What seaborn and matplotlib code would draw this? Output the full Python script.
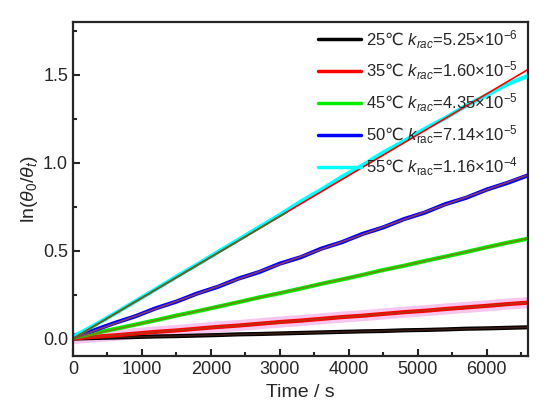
"""ln(theta0/theta) vs time at five temperatures, with linear fits."""
import matplotlib
matplotlib.use("Agg")
import matplotlib.pyplot as plt
from matplotlib.ticker import MultipleLocator
import seaborn as sns

# sample times (s)
time_s = [0, 300, 600, 900, 1200, 1500, 1800, 2100, 2400, 2700, 3000, 3300,
          3600, 3900, 4200, 4500, 4800, 5100, 5400, 5700, 6000, 6300, 6600]

y_25 = [0.000, 0.003, 0.006, 0.009, 0.012, 0.014, 0.017, 0.020, 0.024, 0.026, 0.029, 0.032,
        0.035, 0.038, 0.041, 0.043, 0.047, 0.049, 0.052, 0.056, 0.058, 0.061, 0.064]
y_35 = [0.000, 0.010, 0.018, 0.028, 0.038, 0.046, 0.056, 0.066, 0.074, 0.084, 0.094, 0.102,
        0.112, 0.122, 0.130, 0.140, 0.150, 0.158, 0.168, 0.177, 0.186, 0.196, 0.204]
y_45 = [0.005, 0.030, 0.054, 0.079, 0.104, 0.131, 0.155, 0.181, 0.207, 0.234, 0.258, 0.284,
        0.311, 0.336, 0.362, 0.390, 0.414, 0.441, 0.466, 0.492, 0.519, 0.545, 0.568]
y_50 = [0.015, 0.046, 0.088, 0.126, 0.172, 0.210, 0.256, 0.294, 0.341, 0.378, 0.426, 0.462,
        0.511, 0.548, 0.595, 0.632, 0.679, 0.716, 0.764, 0.800, 0.847, 0.885, 0.928]
y_55 = [0.010, 0.073, 0.141, 0.211, 0.281, 0.352, 0.421, 0.492, 0.562, 0.633, 0.703, 0.778,
        0.846, 0.919, 0.985, 1.058, 1.122, 1.192, 1.254, 1.324, 1.384, 1.446, 1.494]

# linear fits: end points
fit_t = [0, 6600]
fit_25 = [0.0, 0.064]
fit_35 = [0.0, 0.205]
fit_45 = [0.0, 0.570]
fit_50 = [0.0, 0.930]
fit_55 = [0.0, 1.530]
fit_55_early_t = [0, 3100]
fit_55_early = [0.0, 0.718]

labels = [
    r"25$\mathsf{℃}$ $k_{rac}$=5.25×10$^{-6}$",
    r"35$\mathsf{℃}$ $k_{rac}$=1.60×10$^{-5}$",
    r"45$\mathsf{℃}$ $k_{rac}$=4.35×10$^{-5}$",
    r"50$\mathsf{℃}$ $k_{\mathrm{rac}}$=7.14×10$^{-5}$",
    r"55$\mathsf{℃}$ $k_{\mathrm{rac}}$=1.16×10$^{-4}$",
]
data_colors = ["#000000", "#ff0000", "#00ee00", "#0000ff", "#00ffff"]
fit_colors = ["#3a1a12", "#b83010", "#6e8c00", "#8a3a60", "#ff0000"]


def main():
    sns.set_style("ticks")
    plt.rcParams["font.family"] = ["Liberation Sans", "DejaVu Sans"]
    plt.rcParams["mathtext.fontset"] = "custom"
    plt.rcParams["mathtext.rm"] = "Liberation Sans"
    plt.rcParams["mathtext.it"] = "Liberation Sans:italic"
    plt.rcParams["mathtext.bf"] = "Liberation Sans:bold"
    plt.rcParams["mathtext.sf"] = "DejaVu Sans"

    fig = plt.figure(figsize=(5.5, 4.19), dpi=100)
    ax = fig.add_axes([0.1327, 0.150, 0.8273, 0.7975])

    # pink halo under the 35 C data
    sns.lineplot(x=time_s, y=y_35, ax=ax, color="#f7c6ef", lw=8,
                 estimator=None, sort=False, legend=False)

    series = [y_25, y_35, y_45, y_50, y_55]
    fits = [fit_25, fit_35, fit_45, fit_50, fit_55]
    for ys, fy, lab, dc, fc in zip(series, fits, labels, data_colors, fit_colors):
        sns.lineplot(x=time_s, y=ys, ax=ax, color=dc, lw=3, label=lab,
                     estimator=None, sort=False)
        sns.lineplot(x=fit_t, y=fy, ax=ax, color=fc, lw=1.2,
                     estimator=None, sort=False, legend=False)
    sns.lineplot(x=fit_55_early_t, y=fit_55_early, ax=ax, color="#5a6a20", lw=1.2,
                 estimator=None, sort=False, legend=False)

    ax.set_xlim(0, 6600)
    ax.set_ylim(-0.1, 1.8)
    ax.xaxis.set_major_locator(MultipleLocator(1000))
    ax.xaxis.set_minor_locator(MultipleLocator(500))
    ax.yaxis.set_major_locator(MultipleLocator(0.5))
    ax.yaxis.set_minor_locator(MultipleLocator(0.25))
    ax.tick_params(which="both", direction="in", width=1.5, labelsize=13,
                   top=False, right=False)
    ax.tick_params(which="major", length=5)
    ax.tick_params(which="minor", length=3)
    for sp in ax.spines.values():
        sp.set_linewidth(1.6)
        sp.set_visible(True)

    ax.set_xlabel("Time / s", fontsize=14, labelpad=4)
    ax.set_ylabel(r"ln($\theta_0$/$\theta_t$)", fontsize=14, labelpad=2)

    leg = ax.legend(loc="upper right", bbox_to_anchor=(1.0, 1.012), frameon=False,
                    fontsize=12, handlelength=2.6, handletextpad=0.3,
                    labelspacing=0.55, borderaxespad=0.2)
    for h in leg.get_lines():
        h.set_linewidth(2.5)

    fig.savefig("out.png", dpi=100)
    plt.close(fig)


if __name__ == "__main__":
    main()
